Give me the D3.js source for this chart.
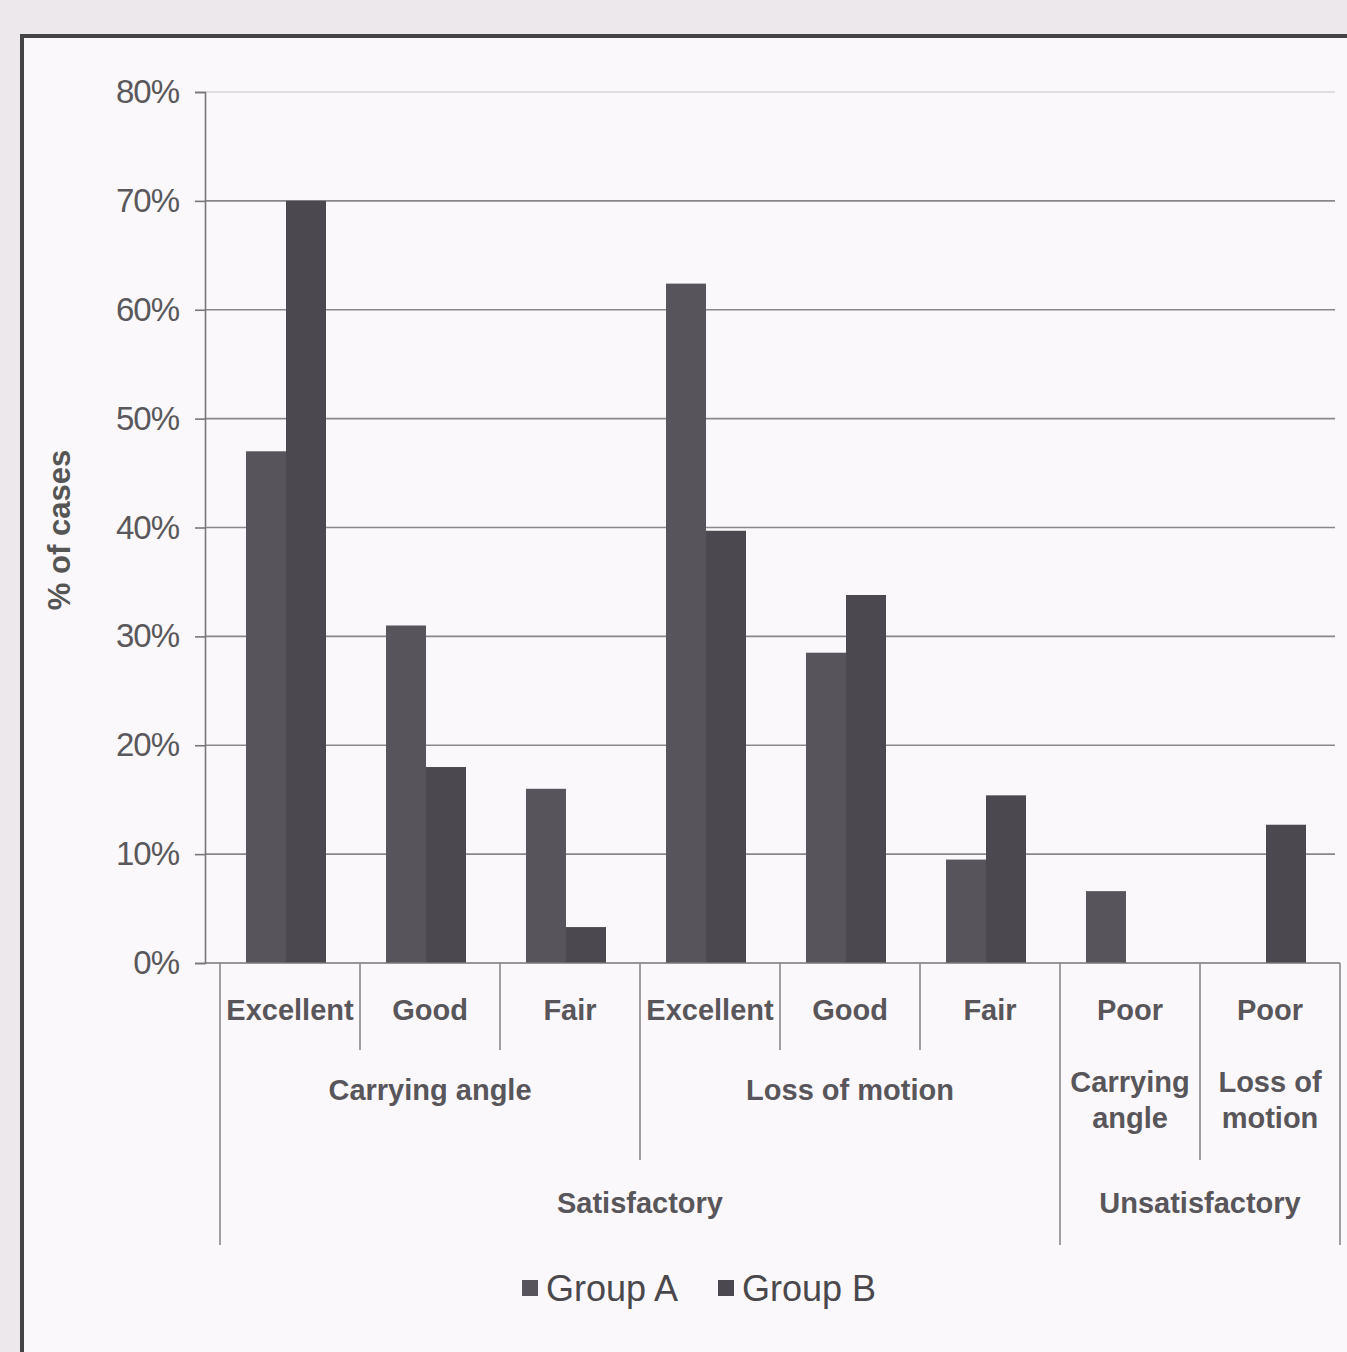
<!DOCTYPE html>
<html><head><meta charset="utf-8">
<script src="https://cdn.jsdelivr.net/npm/d3@7"></script>
<style>body{margin:0;background:#ece8ec;}svg{display:block;}</style>
</head><body>
<svg id="c" width="1347" height="1352"></svg>
<script>
const categories = ["Excellent","Good","Fair","Excellent","Good","Fair","Poor","Poor"];
const subGroups = [
  {label:["Carrying angle"], from:0, to:3},
  {label:["Loss of motion"], from:3, to:6},
  {label:["Carrying","angle"], from:6, to:7},
  {label:["Loss of","motion"], from:7, to:8}
];
const topGroups = [
  {label:"Satisfactory", from:0, to:6},
  {label:"Unsatisfactory", from:6, to:8}
];
const seriesNames = ["Group A","Group B"];
const groupA = [0.47, 0.31, 0.16, 0.624, 0.285, 0.095, 0.066, 0];
const groupB = [0.70, 0.18, 0.033, 0.397, 0.338, 0.154, 0, 0.127];
const yTicks = [0,0.1,0.2,0.3,0.4,0.5,0.6,0.7,0.8];

const svg = d3.select("#c");
const colors = ["#57545b","#4b484f"];

// frame
svg.append("rect").attr("x",22).attr("y",36).attr("width",1340).attr("height",1330)
  .attr("fill","#fbf8fb").attr("stroke","#444").attr("stroke-width",4);

const x0 = d3.scaleBand().domain(d3.range(categories.length)).range([220,1340]).padding(0);
const x1 = d3.scaleBand().domain([0,1]).range([0,x0.bandwidth()]).paddingInner(0).paddingOuter(0.75);
const y = d3.scaleLinear().domain([0,0.8]).range([963,92]);

// gridlines
svg.append("g").selectAll("line").data(yTicks.slice(1)).join("line")
  .attr("x1",205).attr("x2",1335).attr("y1",d=>y(d)).attr("y2",d=>y(d))
  .attr("stroke",d=>d===0.8?"#d8d4d8":"#8a878c").attr("stroke-width",1.6);

// y axis
const yAxis = d3.axisLeft(y).tickValues(yTicks).tickFormat(d3.format(".0%")).tickSize(10).tickPadding(16);
const ga = svg.append("g").attr("transform","translate(205,0)").call(yAxis);
ga.select(".domain").attr("stroke","#777").attr("stroke-width",1.6);
ga.selectAll(".tick line").attr("stroke","#777").attr("stroke-width",1.6);
ga.selectAll(".tick text").attr("font-family","Liberation Sans, Arial, sans-serif")
  .attr("font-size",33).attr("fill","#5a585c").attr("letter-spacing","-1px");

// y title
svg.append("text").attr("transform","translate(70,530) rotate(-90)").attr("text-anchor","middle")
  .attr("font-family","Liberation Sans, Arial, sans-serif").attr("font-size",31).attr("font-weight","bold")
  .attr("fill","#555").text("% of cases");

// bars
const series = [groupA, groupB];
series.forEach((vals,si)=>{
  svg.append("g").selectAll("rect").data(vals).join("rect")
    .attr("x",(d,i)=>x0(i)+x1(si)-4)
    .attr("width",x1.bandwidth())
    .attr("y",d=>y(d))
    .attr("height",d=>y(0)-y(d))
    .attr("fill",colors[si]);
});

// baseline
svg.append("line").attr("x1",205).attr("x2",1340).attr("y1",y(0)).attr("y2",y(0))
  .attr("stroke","#777").attr("stroke-width",1.6);

const font = "Liberation Sans, Arial, sans-serif";
const lblColor = "#58565a";
// category separators
const sepG = svg.append("g").attr("stroke","#8a878c").attr("stroke-width",1.6);
function sepBottom(i){
  if(i===0||i===8) return 1245;
  if(topGroups.some(g=>g.from===i)) return 1245;
  if(subGroups.some(g=>g.from===i)) return 1160;
  return 1050;
}
for(let i=0;i<=categories.length;i++){
  const xx = i<categories.length? x0(i): x0(i-1)+x0.bandwidth();
  sepG.append("line").attr("x1",xx).attr("x2",xx).attr("y1",y(0)).attr("y2",sepBottom(i));
}
// level 1 labels
svg.append("g").selectAll("text").data(categories).join("text")
  .attr("x",(d,i)=>x0(i)+x0.bandwidth()/2).attr("y",1020).attr("text-anchor","middle")
  .attr("font-family",font).attr("font-size",29).attr("font-weight","bold").attr("fill",lblColor)
  .text(d=>d);
// level 2 labels
subGroups.forEach(g=>{
  const cx = (x0(g.from)+x0(g.to-1)+x0.bandwidth())/2;
  const t = svg.append("text").attr("text-anchor","middle").attr("font-family",font)
    .attr("font-size",29).attr("font-weight","bold").attr("fill",lblColor);
  if(g.label.length===1){
    t.attr("x",cx).attr("y",1100).text(g.label[0]);
  } else {
    g.label.forEach((l,k)=>t.append("tspan").attr("x",cx).attr("y",1092+k*36).text(l));
  }
});
// level 3 labels
topGroups.forEach(g=>{
  const cx = (x0(g.from)+x0(g.to-1)+x0.bandwidth())/2;
  svg.append("text").attr("x",cx).attr("y",1213).attr("text-anchor","middle").attr("font-family",font)
    .attr("font-size",29).attr("font-weight","bold").attr("fill",lblColor).text(g.label);
});

// legend
const leg = svg.append("g");
const legX = [522, 718];
seriesNames.forEach((n,i)=>{
  leg.append("rect").attr("x",legX[i]).attr("y",1280).attr("width",16).attr("height",16).attr("fill",colors[i]);
  leg.append("text").attr("x",legX[i]+24).attr("y",1301).attr("font-family",font).attr("font-size",36)
    .attr("fill","#4a484c").text(n);
});
</script>
</body></html>
